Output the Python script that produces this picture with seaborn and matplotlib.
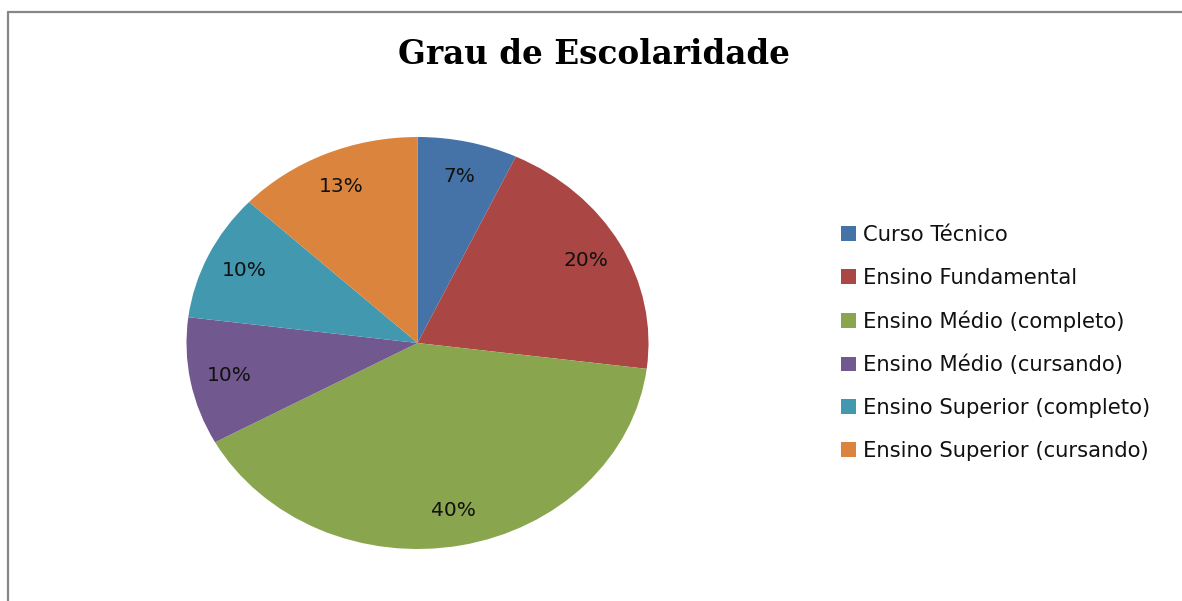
import matplotlib
matplotlib.use("Agg")
import matplotlib.pyplot as plt
from matplotlib.lines import Line2D
import seaborn as sns

categories = ["Curso Técnico", "Ensino Fundamental", "Ensino Médio (completo)",
              "Ensino Médio (cursando)", "Ensino Superior (completo)", "Ensino Superior (cursando)"]
values = [7, 20, 40, 10, 10, 13]
colors = ["#4572A7", "#AA4643", "#89A54E", "#71588F", "#4198AF", "#DB843D"]
title = "Grau de Escolaridade"

sns.set_theme(style="white")
plt.rcParams['font.family'] = ['DejaVu Sans']

W, H = 1182, 601
fig = plt.figure(figsize=(W / 100, H / 100), dpi=100)
fig.patch.set_facecolor("white")

cx, cy, rx, ry = 417.5, 343, 231, 206
ax = fig.add_axes([(cx - rx) / W, (H - cy - ry) / H, 2 * rx / W, 2 * ry / H])
wedges, texts, autotexts = ax.pie(
    values, colors=colors, startangle=90, counterclock=False,
    autopct=lambda p: f"{p:.0f}%", pctdistance=0.83,
    wedgeprops=dict(linewidth=0), textprops=dict(fontsize=14.5, color="#111111"))
ax.set_aspect("auto")
ax.set_xlim(-1, 1)
ax.set_ylim(-1, 1)
ax.axis("off")

fig.text(594 / W, 1 - 55 / H, title, ha="center", va="center",
         fontfamily="DejaVu Serif", fontweight="bold", fontsize=23.5, color="black")

leg = fig.legend(wedges, categories, loc="center left", bbox_to_anchor=(841 / W, 1 - 343 / H),
                 frameon=False, fontsize=15.2, handlelength=0.7, handleheight=0.7,
                 handletextpad=0.35, labelspacing=1.08, borderpad=0, borderaxespad=0)
for t in leg.get_texts():
    t.set_color("#111111")

fig.add_artist(Line2D([8 / W, 8 / W], [0, 1 - 12 / H], transform=fig.transFigure,
                      color="#878787", linewidth=1.6))
fig.add_artist(Line2D([8 / W, 1], [1 - 12 / H, 1 - 12 / H], transform=fig.transFigure,
                      color="#878787", linewidth=1.6))

fig.savefig("out.png", dpi=100, facecolor="white")
